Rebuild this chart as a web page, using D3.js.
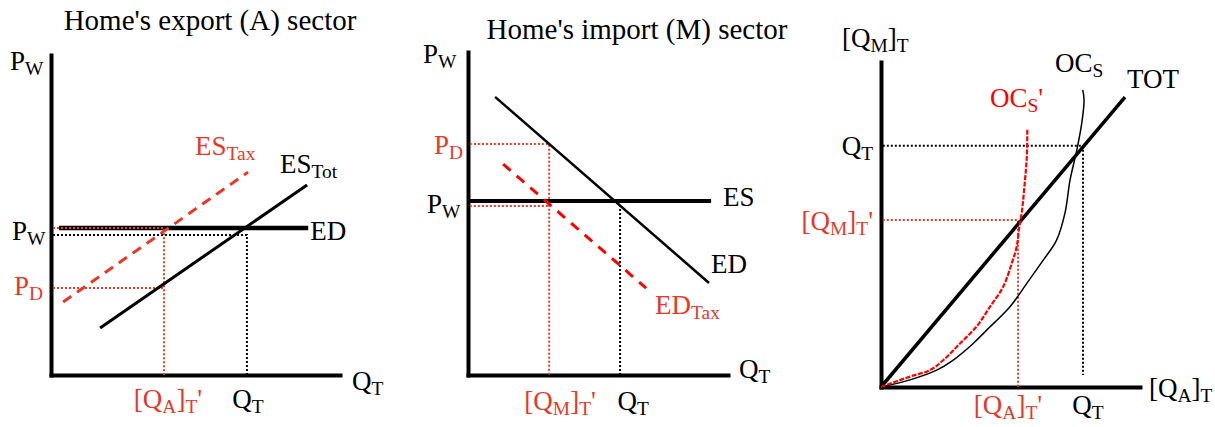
<!DOCTYPE html>
<html>
<head>
<meta charset="utf-8">
<script src="https://cdn.jsdelivr.net/npm/d3@7/dist/d3.min.js"></script>
<style>
  body { margin: 0; background: #fff; }
  svg { display: block; }
  text { font-family: "Liberation Serif", "Times New Roman", serif; }
</style>
</head>
<body>
<svg id="chart" width="1215" height="427"></svg>
<script>
// ---------------- DATA ----------------
// Panel 1: Home's export (A) sector  (data units 0..10)
const exportTitle = "Home's export (A) sector";
const exportED = [[0.28, 4.59], [8.9, 4.59]];
const exportESTot = [[1.7, 1.47], [8.86, 5.94]];
const exportESTax = [[0.42, 2.28], [6.82, 6.34]];
const exportPW = 4.59;      // world price (red dotted)
const exportPWdot = 4.375;  // black dotted guide to Q_T
const exportPD = 2.72;
const exportQT = 6.78;
const exportQA = 3.91;

// Panel 2: Home's import (M) sector
const importTitle = "Home's import (M) sector";
const importES = [[0, 5.39], [9.35, 5.39]];
const importED = [[1.04, 8.61], [9.27, 2.85]];
const importEDTax = [[1.35, 6.53], [6.85, 2.69]];
const importPW = 5.23;
const importPD = 7.15;
const importQT = 5.85;
const importQM = 3.12;
const importESy = 5.39;

// Panel 3: offer curves
const tot = [[0, 0], [9.42, 8.92]];
const ocS = [[0,0],[1.12,0.22],[2.15,0.52],[2.79,0.83],[3.56,1.34],[4.08,1.75],[4.98,2.47],[5.63,3.19],[6.27,3.91],[6.78,4.52],[7.10,5.34],[7.30,6.37],[7.56,7.29],[7.75,8.11],[7.84,8.83],[7.79,9.14]];
const ocSTax = [[0,0],[1.12,0.32],[1.89,0.52],[2.41,0.83],[3.05,1.34],[3.69,1.86],[4.21,2.47],[4.72,3.09],[5.05,3.81],[5.24,4.32],[5.34,4.93],[5.43,5.34],[5.56,6.37],[5.63,7.09],[5.65,7.96]];
const offerQTx = 7.80, offerQTy = 7.42;
const offerQA = 5.29, offerQM = 5.14;

// ---------------- STYLE ----------------
const RED = "#e6392a";
const PURE_RED = "#ff0000";
const FS = 27;

const svg = d3.select("#chart");

function label(g, x, y, parts, color, anchor) {
  const t = g.append("text").attr("x", x).attr("y", y)
    .attr("fill", color || "#000").attr("font-size", FS)
    .attr("text-anchor", anchor || "start");
  let down = false;
  parts.forEach(p => {
    const sub = Array.isArray(p);
    const s = t.append("tspan").text(sub ? p[0] : p);
    if (sub) { s.attr("font-size", FS * 0.72); if (!down) { s.attr("dy", 5); down = true; } }
    else if (down) { s.attr("dy", -5); down = false; }
  });
  return t;
}

function panel(ox, oy, w, h) {
  const x = d3.scaleLinear().domain([0, 10]).range([ox, ox + w]);
  const y = d3.scaleLinear().domain([0, 10]).range([oy, oy - h]);
  return { x, y };
}

function axes(g, s) {
  g.append("g").attr("transform", `translate(0,${s.y(0)})`)
    .call(d3.axisBottom(s.x).ticks(0).tickSizeOuter(0))
    .call(a => a.select(".domain").attr("stroke", "#000").attr("stroke-width", 4).attr("stroke-linecap", "square"));
  g.append("g").attr("transform", `translate(${s.x(0)},0)`)
    .call(d3.axisLeft(s.y).ticks(0).tickSizeOuter(0))
    .call(a => a.select(".domain").attr("stroke", "#000").attr("stroke-width", 4).attr("stroke-linecap", "square"));
}

function path(g, s, pts, color, width, dash, curve) {
  const l = d3.line().x(d => s.x(d[0])).y(d => s.y(d[1]));
  if (curve) l.curve(curve);
  const p = g.append("path").attr("d", l(pts)).attr("fill", "none")
    .attr("stroke", color).attr("stroke-width", width);
  if (dash) p.attr("stroke-dasharray", dash);
  return p;
}

function dotted(g, s, pts, color) {
  return path(g, s, pts, color, 2, "2,2");
}

// ---------------- PANEL 1 ----------------
{
  const g = svg.append("g");
  const s = panel(51, 375, 289, 320);
  g.append("text").attr("x", 210).attr("y", 30).attr("text-anchor", "middle")
    .attr("font-size", 29).text(exportTitle);
  axes(g, s);
  path(g, s, exportED, "#000", 4.5);
  dotted(g, s, [[0.07, exportPWdot], [exportQT, exportPWdot], [exportQT, 0]], "#000");
  dotted(g, s, [[0.07, exportPW], [exportQA, exportPW], [exportQA, 0]], RED);
  dotted(g, s, [[0.07, exportPD], [exportQA, exportPD]], RED);
  path(g, s, exportESTot, "#000", 3);
  path(g, s, exportESTax, RED, 3, "10,7");
  label(g, 10, 70, ["P", ["W"]]);
  label(g, 12, s.y(exportPW) + 12, ["P", ["W"]]);
  label(g, 14, s.y(exportPD) + 7, ["P", ["D"]], RED);
  label(g, s.x(exportED[1][0]) + 2, s.y(exportED[1][1]) + 12, ["ED"]);
  label(g, 195, 155, ["ES", ["Tax"]], RED);
  label(g, 280, 173, ["ES", ["Tot"]]);
  label(g, 352, 390, ["Q", ["T"]]);
  label(g, s.x(exportQA) + 4, 408, ["[Q", ["A"], "]", ["T"], "'"], RED, "middle");
  label(g, s.x(exportQT) + 1, 408, ["Q", ["T"]], "#000", "middle");
}

// ---------------- PANEL 2 ----------------
{
  const g = svg.append("g");
  const s = panel(468, 375, 260, 323);
  g.append("text").attr("x", 637).attr("y", 39).attr("text-anchor", "middle")
    .attr("font-size", 29).text(importTitle);
  axes(g, s);
  dotted(g, s, [[0.07, importPD], [importQM, importPD], [importQM, 0]], RED);
  dotted(g, s, [[0.07, importPW], [importQM, importPW]], RED);
  dotted(g, s, [[importQT, importESy], [importQT, 0]], "#000");
  path(g, s, importES, "#000", 4);
  path(g, s, importED, "#000", 2.5);
  path(g, s, importEDTax, PURE_RED, 3, "10,8");
  label(g, 423, 63, ["P", ["W"]]);
  label(g, 434, s.y(importPD) + 10, ["P", ["D"]], RED);
  label(g, 427, s.y(importESy) + 12, ["P", ["W"]]);
  label(g, 723, s.y(importESy) + 5, ["ES"]);
  label(g, 711, 273, ["ED"]);
  label(g, 655, 314, ["ED", ["Tax"]], RED);
  label(g, 739, 378, ["Q", ["T"]]);
  label(g, s.x(importQM) + 11, 410, ["[Q", ["M"], "]", ["T"], "'"], RED, "middle");
  label(g, s.x(importQT) + 13, 410, ["Q", ["T"]], "#000", "middle");
}

// ---------------- PANEL 3 ----------------
{
  const g = svg.append("g");
  const s = panel(881, 387, 259, 325);
  axes(g, s);
  dotted(g, s, [[0.07, offerQTy], [offerQTx, offerQTy], [offerQTx, 0.37]], "#000");
  dotted(g, s, [[0.07, offerQM], [offerQA, offerQM], [offerQA, 0]], RED);
  path(g, s, tot, "#000", 3.5);
  path(g, s, ocS, "#000", 1.5, null, d3.curveCatmullRom);
  path(g, s, ocSTax, PURE_RED, 2.2, "5,1.5", d3.curveCatmullRom);
  label(g, 842, 47, ["[Q", ["M"], "]", ["T"]]);
  label(g, 1055, 72, ["OC", ["S"]]);
  label(g, 1127, 88, ["TOT"]);
  label(g, 990, 107, ["OC", ["S"], "'"], PURE_RED);
  label(g, 873, s.y(offerQTy) + 9, ["Q", ["T"]], "#000", "end");
  label(g, 873, s.y(offerQM) + 10, ["[Q", ["M"], "]", ["T"], "'"], RED, "end");
  label(g, 1149, 397, ["[Q", ["A"], "]", ["T"]]);
  label(g, s.x(offerQA) - 10, 414, ["[Q", ["A"], "]", ["T"], "'"], RED, "middle");
  label(g, s.x(offerQTx) + 5, 414, ["Q", ["T"]], "#000", "middle");
}
</script>
</body>
</html>
